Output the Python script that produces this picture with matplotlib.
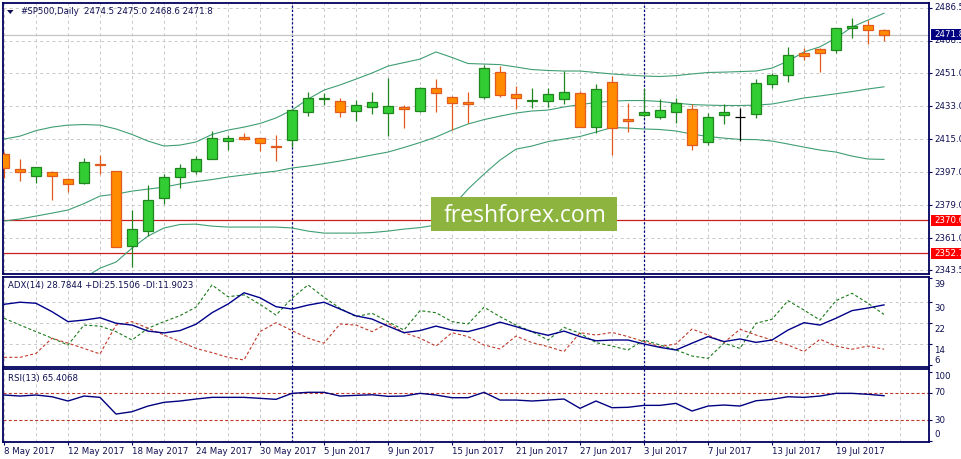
import matplotlib
matplotlib.use('Agg')
import matplotlib.pyplot as plt
from matplotlib.patches import Rectangle, Polygon
import numpy as np
import pandas as pd

plt.rcParams['font.family'] = ['DejaVu Sans']
plt.rcParams['lines.scale_dashes'] = False

# ---------------- data ----------------
bar_dates = pd.bdate_range('2017-05-08', '2017-07-24')

date_tick_labels = ['8 May 2017', '12 May 2017', '18 May 2017', '24 May 2017', '30 May 2017',
                    '5 Jun 2017', '9 Jun 2017', '15 Jun 2017', '21 Jun 2017', '27 Jun 2017',
                    '3 Jul 2017', '7 Jul 2017', '13 Jul 2017', '19 Jul 2017']

opens = [2406.8, 2398.5, 2394.7, 2397.0, 2393.2, 2390.8, 2401.5, 2397.4, 2356.8, 2365.0,
         2383.0, 2394.4, 2397.7, 2404.3, 2414.1, 2415.9, 2415.4, 2411.2, 2414.3, 2429.9,
         2436.8, 2435.6, 2430.4, 2432.6, 2429.0, 2432.3, 2430.4, 2442.7, 2437.9, 2435.0,
         2437.8, 2451.4, 2439.4, 2435.6, 2435.6, 2436.8, 2439.9, 2421.7, 2445.9, 2425.9,
         2427.9, 2427.2, 2429.6, 2431.2, 2413.2, 2427.9, 2427.2, 2428.8, 2445.2, 2450.1,
         2461.9, 2463.9, 2463.7, 2475.4, 2477.2, 2474.5]
highs = [2407.9, 2404.1, 2399.7, 2397.5, 2393.9, 2404.5, 2406.3, 2397.5, 2376.3, 2389.7,
         2395.9, 2401.4, 2405.7, 2419.4, 2417.2, 2418.1, 2415.5, 2417.2, 2430.8, 2440.6,
         2439.9, 2437.2, 2436.1, 2440.5, 2448.1, 2433.5, 2443.2, 2447.6, 2438.5, 2440.5,
         2455.4, 2455.0, 2443.9, 2442.7, 2442.7, 2452.1, 2441.3, 2445.0, 2449.4, 2434.6,
         2443.0, 2436.8, 2437.2, 2434.3, 2429.2, 2434.1, 2431.9, 2447.6, 2451.0, 2465.2,
         2464.6, 2464.6, 2475.7, 2481.0, 2479.9, 2475.0]
lows = [2393.7, 2392.3, 2390.8, 2381.6, 2386.3, 2390.3, 2395.7, 2355.9, 2345.3, 2362.1,
        2379.7, 2388.4, 2396.1, 2403.9, 2409.0, 2414.7, 2408.6, 2403.2, 2410.5, 2427.7,
        2433.5, 2427.2, 2425.0, 2428.5, 2416.6, 2421.2, 2429.6, 2429.9, 2419.9, 2423.9,
        2436.7, 2437.8, 2431.5, 2432.1, 2432.3, 2433.9, 2421.5, 2418.4, 2406.3, 2419.0,
        2427.2, 2426.1, 2423.9, 2409.0, 2411.6, 2423.3, 2414.1, 2426.6, 2443.0, 2446.3,
        2458.1, 2451.6, 2462.1, 2470.3, 2467.0, 2468.6]
closes = [2399.2, 2396.8, 2399.6, 2394.7, 2390.5, 2402.3, 2400.7, 2356.3, 2365.9, 2381.6,
          2394.1, 2399.0, 2403.9, 2415.4, 2415.4, 2415.0, 2412.7, 2410.9, 2430.8, 2437.2,
          2437.3, 2429.9, 2433.4, 2435.0, 2432.8, 2431.5, 2442.7, 2439.9, 2434.5, 2434.3,
          2453.6, 2438.8, 2437.2, 2436.1, 2439.5, 2440.5, 2421.5, 2442.1, 2420.8, 2424.7,
          2429.6, 2430.8, 2434.6, 2411.6, 2426.8, 2429.6, 2427.2, 2445.4, 2449.8, 2460.7,
          2460.4, 2462.1, 2475.4, 2476.6, 2474.3, 2471.8]

bb_upper = [2415.0, 2416.6, 2419.6, 2421.5, 2422.6, 2422.9, 2422.6, 2420.5, 2417.5, 2413.9,
            2411.2, 2411.7, 2413.4, 2417.5, 2419.9, 2421.5, 2423.5, 2426.5, 2430.8, 2436.8,
            2441.7, 2444.5, 2447.7, 2451.0, 2454.8, 2456.7, 2458.6, 2462.5, 2459.5, 2456.2,
            2455.9, 2455.6, 2454.3, 2452.9, 2452.4, 2452.1, 2452.1, 2451.3, 2450.5, 2449.9,
            2449.4, 2449.1, 2449.6, 2450.5, 2451.3, 2451.5, 2451.8, 2452.1, 2453.7, 2457.5,
            2462.5, 2465.3, 2470.1, 2476.1, 2479.9, 2483.6]
bb_middle = [2370.3, 2371.4, 2373.0, 2374.6, 2376.3, 2379.8, 2383.9, 2385.0, 2386.6, 2387.7,
             2388.8, 2390.5, 2391.8, 2392.9, 2394.3, 2395.4, 2396.5, 2397.5, 2399.2, 2400.3,
             2401.6, 2403.0, 2404.6, 2406.3, 2407.9, 2410.4, 2413.1, 2416.1, 2419.9, 2423.2,
             2425.6, 2427.5, 2429.2, 2430.3, 2430.8, 2432.5, 2433.8, 2434.9, 2435.7, 2436.0,
             2436.0, 2435.5, 2434.6, 2433.8, 2433.5, 2433.3, 2433.3, 2433.5, 2434.1, 2435.7,
             2437.4, 2438.5, 2439.7, 2440.9, 2442.3, 2443.5]
bb_lower = [2327.2, 2328.8, 2331.0, 2332.6, 2335.4, 2339.2, 2344.6, 2347.9, 2355.5, 2362.1,
            2366.5, 2368.4, 2368.6, 2367.5, 2367.0, 2367.0, 2367.0, 2367.0, 2366.5, 2364.8,
            2363.7, 2363.7, 2363.7, 2364.0, 2364.8, 2365.9, 2366.7, 2368.1, 2377.9, 2387.7,
            2395.9, 2403.5, 2409.5, 2411.2, 2413.6, 2415.0, 2416.4, 2418.8, 2421.3, 2421.0,
            2420.5, 2420.2, 2419.4, 2417.7, 2416.4, 2415.5, 2414.8, 2414.7, 2413.9, 2412.3,
            2410.6, 2409.0, 2407.9, 2405.7, 2404.1, 2403.9]

adx = [29.0, 29.8, 29.4, 26.2, 22.4, 23.0, 23.9, 21.8, 21.1, 18.8,
       18.1, 19.0, 21.4, 25.8, 29.1, 33.4, 31.5, 28.1, 27.2, 28.7,
       29.8, 27.2, 24.6, 23.4, 20.7, 18.2, 19.0, 20.7, 19.2, 18.6,
       20.2, 22.2, 20.5, 18.6, 17.2, 18.8, 16.7, 15.1, 15.4, 15.4,
       13.9, 12.6, 11.6, 14.2, 16.7, 14.8, 15.8, 14.5, 15.4, 19.2,
       22.0, 21.1, 23.7, 26.6, 27.6, 28.78]
plus_di = [23.7, 21.1, 18.6, 16.1, 13.5, 21.1, 20.7, 18.6, 15.4, 19.9,
           22.4, 24.7, 27.9, 36.4, 31.9, 32.6, 29.0, 24.9, 31.3, 36.4,
           31.7, 27.5, 24.3, 25.6, 22.4, 19.2, 26.6, 25.8, 22.4, 21.5,
           27.9, 24.3, 21.1, 18.6, 15.4, 20.2, 18.0, 14.4, 13.1, 11.6,
           15.4, 13.5, 11.6, 9.3, 8.4, 14.2, 12.2, 21.8, 23.3, 30.4,
           26.8, 23.0, 30.4, 33.2, 29.4, 25.15]
minus_di = [8.8, 8.8, 10.3, 16.1, 14.2, 12.2, 10.1, 21.1, 22.4, 19.9,
            17.3, 14.8, 12.2, 10.6, 8.8, 7.8, 18.6, 22.0, 19.0, 16.1,
            14.2, 21.5, 21.1, 18.6, 21.8, 18.2, 16.1, 13.1, 18.2, 16.7,
            13.5, 12.0, 16.9, 14.4, 12.9, 11.0, 18.2, 17.3, 18.3, 16.7,
            14.8, 12.9, 13.9, 19.6, 17.3, 14.4, 19.5, 17.3, 15.4, 13.5,
            11.0, 15.7, 13.1, 11.9, 13.1, 11.90]
rsi = [66.4, 64.9, 66.4, 63.9, 57.7, 64.9, 63.0, 38.8, 42.2, 50.4,
       55.8, 57.7, 60.6, 63.0, 63.0, 63.0, 61.6, 60.1, 68.8, 70.3,
       70.3, 64.9, 65.9, 66.8, 64.5, 64.9, 68.8, 66.4, 62.5, 62.5,
       70.3, 59.1, 59.1, 57.7, 59.1, 60.6, 47.1, 57.7, 48.0, 48.6,
       51.4, 51.4, 54.3, 43.2, 50.4, 51.9, 50.4, 58.1, 60.1, 63.9,
       63.0, 64.9, 68.8, 68.8, 67.4, 65.4]

support_levels = [2370.6, 2352.7]
last_price = 2471.8
price_ticks = [2486.5, 2468.5, 2451.0, 2433.0, 2415.0, 2397.0, 2379.0, 2361.0, 2343.5]
adx_ticks = [39, 30, 22, 14, 6]
adx_grid = [30, 22, 14]
rsi_ticks = [100, 70, 30, 0]
rsi_levels = [70, 30]

title_symbol = '#SP500,Daily'
title_ohlc = '2474.5 2475.0 2468.6 2471.8'
adx_label = 'ADX(14) 28.7844 +DI:25.1506 -DI:11.9023'
rsi_label = 'RSI(13) 65.4068'

# ---------------- style ----------------
W, H = 961, 459
navy = '#00005e'
text_col = '#0e0e52'
grid_col = '#c9c9c9'
bull_fill, bull_edge = '#32cd32', '#1f861f'
bear_fill, bear_edge = '#ff8c00', '#e25a1c'
bb_col = '#3f9e74'
sup_col = '#c81e1e'
fs = 6.2

fig = plt.figure(figsize=(W / 100, H / 100), dpi=100)
fig.patch.set_facecolor('white')


def rect(x0, x1, y0, y1):
    return [x0 / W, 1 - y1 / H, (x1 - x0) / W, (y1 - y0) / H]


ax1 = fig.add_axes(rect(3, 929, 3, 274))
ax2 = fig.add_axes(rect(3, 929, 277, 367))
ax3 = fig.add_axes(rect(3, 929, 369, 442))

n = len(opens)
x = np.arange(n)
xlim = (-0.0625, 57.8125)

for ax in (ax1, ax2, ax3):
    ax.set_xlim(*xlim)
    for s in ax.spines.values():
        s.set_color(navy)
        s.set_linewidth(1.3)
    for g in range(0, 58, 2):
        ax.axvline(g, color=grid_col, lw=0.7, dashes=(2.2, 2.2), zorder=0)
    # month separators
    for i in range(1, n):
        if bar_dates[i].month != bar_dates[i - 1].month:
            ax.axvline(i, color='#000080', lw=0.9, dashes=(1.6, 1.4), zorder=1)
    ax.yaxis.set_ticks_position('right')
    ax.tick_params(axis='y', direction='out', length=2.3, width=0.8, color=navy,
                   labelright=False, labelleft=False)
    ax.tick_params(axis='x', bottom=False, labelbottom=False)

# ---------------- main panel ----------------
ax1.set_ylim(2341.4, 2489.2)
ax1.set_yticks(price_ticks)
for p in price_ticks:
    ax1.axhline(p, color=grid_col, lw=0.7, dashes=(2.2, 2.2), zorder=0)
    ax1.annotate(f'{p:.1f}', xy=(1, p), xycoords=ax1.get_yaxis_transform(),
                 xytext=(3.6, 0), textcoords='offset points', ha='left', va='center',
                 fontsize=fs, color=text_col, annotation_clip=False)

ax1.axhline(last_price, color='#c4c4c4', lw=0.9, zorder=1)
for lv in support_levels:
    ax1.axhline(lv, color=sup_col, lw=0.9, zorder=2)

ax1.plot(x, bb_upper, color=bb_col, lw=0.8, zorder=2)
ax1.plot(x, bb_middle, color=bb_col, lw=0.8, zorder=2)
ax1.plot(x, bb_lower, color=bb_col, lw=0.8, zorder=2)

o = np.array(opens); c = np.array(closes); h = np.array(highs); l = np.array(lows)
up = c > o
dn = c < o
eq = c == o
bw = 0.62
ax1.vlines(x[up], l[up], h[up], color=bull_edge, lw=0.9, zorder=3)
ax1.vlines(x[dn], l[dn], h[dn], color=bear_edge, lw=0.9, zorder=3)
ax1.vlines(x[eq], l[eq], h[eq], color='black', lw=0.9, zorder=3)
ax1.bar(x[up], (c - o)[up], bottom=o[up], width=bw, color=bull_fill,
        edgecolor=bull_edge, lw=0.9, zorder=4)
ax1.bar(x[dn], (o - c)[dn], bottom=c[dn], width=bw, color=bear_fill,
        edgecolor=bear_edge, lw=0.9, zorder=4)
ax1.hlines(o[eq], x[eq] - bw / 2, x[eq] + bw / 2, color='black', lw=0.9, zorder=4)

# price boxes on the right axis
ytr = ax1.get_yaxis_transform()
for val, fc in [(last_price, '#000080'), (support_levels[0], '#ff0000'), (support_levels[1], '#ff0000')]:
    r = Rectangle((1 + 2 / 926, val - 3.0), 40 / 926, 6.0, transform=ytr, fc=fc, ec='none',
                  clip_on=False, zorder=10)
    ax1.add_patch(r)
    ax1.annotate(f'{val:.1f}', xy=(1, val), xycoords=ytr, xytext=(3.6, 0),
                 textcoords='offset points', ha='left', va='center', fontsize=fs,
                 color='white', zorder=11, annotation_clip=False)

# watermark
wm = Rectangle((431 / W, 1 - 231 / H), 186 / W, 34 / H, transform=fig.transFigure,
               fc='#8db43e', ec='none', zorder=8)
ax1.add_patch(wm)
ax1.text(525 / W, 1 - 222.5 / H, 'freshforex.com', transform=fig.transFigure,
         family=['Open Sans', 'DejaVu Sans'], fontsize=16.5, color='white',
         ha='center', va='baseline', zorder=9)

# title
tri = Polygon([[7 / W, 1 - 10 / H], [13.5 / W, 1 - 10 / H], [10.25 / W, 1 - 14 / H]],
              closed=True, transform=fig.transFigure, fc=text_col, ec='none')
fig.add_artist(tri)
fig.text(20 / W, 1 - 12 / H, title_symbol, fontsize=fs, color=text_col, ha='left', va='center')
fig.text(84 / W, 1 - 12 / H, title_ohlc, fontsize=fs, color=text_col, ha='left', va='center')

# ---------------- ADX panel ----------------
ax2.set_ylim(5.12, 39.41)
ax2.set_yticks(adx_ticks)
for g in adx_grid:
    ax2.axhline(g, color=grid_col, lw=0.7, dashes=(2.2, 2.2), zorder=0)
ax2.plot(x, adx, color='#00008b', lw=1.0, zorder=4)
ax2.plot(x, plus_di, color='#1a7a1a', lw=0.8, dashes=(2.2, 1.6), zorder=3)
ax2.plot(x, minus_di, color='#c0392b', lw=0.8, dashes=(2.2, 1.6), zorder=3)
for t in adx_ticks:
    dy = 3.0 if t == adx_ticks[-1] else -4.8
    ax2.annotate(f'{t}', xy=(1, t), xycoords=ax2.get_yaxis_transform(), xytext=(3.6, dy),
                 textcoords='offset points', ha='left', va='center', fontsize=fs,
                 color=text_col, annotation_clip=False)
fig.text(8 / W, 1 - 285.7 / H, adx_label, fontsize=fs, color=text_col, ha='left', va='center')

# ---------------- RSI panel ----------------
ax3.set_ylim(-1.7, 104.1)
ax3.set_yticks(rsi_ticks)
for lv in rsi_levels:
    ax3.axhline(lv, color='#c0392b', lw=0.8, dashes=(2.2, 1.6), zorder=2)
ax3.plot(x, rsi, color='#000080', lw=1.0, zorder=4)
for t in rsi_ticks:
    dy = {100: -3.5, 0: 4.2}.get(t, 0)
    ax3.annotate(f'{t}', xy=(1, t), xycoords=ax3.get_yaxis_transform(), xytext=(3.6, dy),
                 textcoords='offset points', ha='left', va='center', fontsize=fs,
                 color=text_col, annotation_clip=False)
fig.text(8 / W, 1 - 378.3 / H, rsi_label, fontsize=fs, color=text_col, ha='left', va='center')

ax3.set_xticks(np.arange(0, n, 4))
ax3.set_xticklabels(date_tick_labels)
ax3.tick_params(axis='x', bottom=True, labelbottom=True, direction='out', length=2.3,
                width=0.8, color=navy, labelsize=fs, labelcolor=text_col, pad=1.4)
for lab in ax3.get_xticklabels():
    lab.set_ha('left')

fig.savefig('out.png', dpi=100, facecolor='white')
